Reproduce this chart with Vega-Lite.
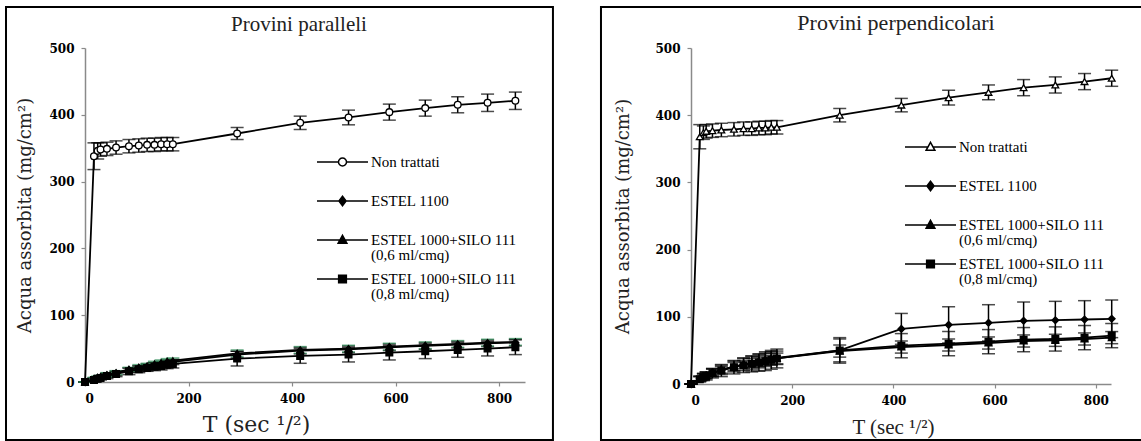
{
  "$schema": "https://vega.github.io/schema/vega-lite/v6.json",
  "background": "white",
  "padding": 5,
  "spacing": 45,
  "resolve": {
    "scale": {"x": "independent", "y": "independent", "shape": "independent", "fill": "independent"},
    "legend": {"shape": "independent", "fill": "independent"},
    "axis": {"x": "independent", "y": "independent"}
  },
  "datasets": {
    "pts": [
      {"p":"L","s":"Non trattati","t":0,"y":0,"e":0},
      {"p":"L","s":"Non trattati","t":17.3,"y":338,"e":20},
      {"p":"L","s":"Non trattati","t":24.5,"y":346,"e":12},
      {"p":"L","s":"Non trattati","t":30,"y":348,"e":10},
      {"p":"L","s":"Non trattati","t":42.4,"y":349,"e":10},
      {"p":"L","s":"Non trattati","t":60,"y":351,"e":10},
      {"p":"L","s":"Non trattati","t":84.9,"y":353,"e":10},
      {"p":"L","s":"Non trattati","t":103.9,"y":354,"e":10},
      {"p":"L","s":"Non trattati","t":120,"y":355,"e":10},
      {"p":"L","s":"Non trattati","t":134.2,"y":355,"e":10},
      {"p":"L","s":"Non trattati","t":147,"y":356,"e":10},
      {"p":"L","s":"Non trattati","t":158.7,"y":356,"e":10},
      {"p":"L","s":"Non trattati","t":169.7,"y":356,"e":10},
      {"p":"L","s":"Non trattati","t":293.9,"y":372,"e":9},
      {"p":"L","s":"Non trattati","t":415.7,"y":388,"e":10},
      {"p":"L","s":"Non trattati","t":509.1,"y":396,"e":11},
      {"p":"L","s":"Non trattati","t":587.9,"y":404,"e":12},
      {"p":"L","s":"Non trattati","t":657.3,"y":410,"e":12},
      {"p":"L","s":"Non trattati","t":720,"y":415,"e":12},
      {"p":"L","s":"Non trattati","t":777.7,"y":418,"e":13},
      {"p":"L","s":"Non trattati","t":831.4,"y":421,"e":13},
      {"p":"L","s":"ESTEL 1100","t":0,"y":0,"e":0},
      {"p":"L","s":"ESTEL 1100","t":17.3,"y":4,"e":2},
      {"p":"L","s":"ESTEL 1100","t":24.5,"y":6,"e":2},
      {"p":"L","s":"ESTEL 1100","t":30,"y":7,"e":2},
      {"p":"L","s":"ESTEL 1100","t":42.4,"y":10,"e":3},
      {"p":"L","s":"ESTEL 1100","t":60,"y":13,"e":3},
      {"p":"L","s":"ESTEL 1100","t":84.9,"y":18,"e":3},
      {"p":"L","s":"ESTEL 1100","t":103.9,"y":21,"e":3},
      {"p":"L","s":"ESTEL 1100","t":120,"y":23,"e":4},
      {"p":"L","s":"ESTEL 1100","t":134.2,"y":25,"e":4},
      {"p":"L","s":"ESTEL 1100","t":147,"y":27,"e":4},
      {"p":"L","s":"ESTEL 1100","t":158.7,"y":29,"e":4},
      {"p":"L","s":"ESTEL 1100","t":169.7,"y":30,"e":4},
      {"p":"L","s":"ESTEL 1100","t":293.9,"y":41,"e":5},
      {"p":"L","s":"ESTEL 1100","t":415.7,"y":47,"e":5},
      {"p":"L","s":"ESTEL 1100","t":509.1,"y":49,"e":5},
      {"p":"L","s":"ESTEL 1100","t":587.9,"y":52,"e":5},
      {"p":"L","s":"ESTEL 1100","t":657.3,"y":54,"e":5},
      {"p":"L","s":"ESTEL 1100","t":720,"y":56,"e":5},
      {"p":"L","s":"ESTEL 1100","t":777.7,"y":58,"e":5},
      {"p":"L","s":"ESTEL 1100","t":831.4,"y":59,"e":5},
      {"p":"L","s":"ESTEL 1000+SILO 111 (0,6 ml/cmq)","t":0,"y":0,"e":0},
      {"p":"L","s":"ESTEL 1000+SILO 111 (0,6 ml/cmq)","t":17.3,"y":5,"e":2},
      {"p":"L","s":"ESTEL 1000+SILO 111 (0,6 ml/cmq)","t":24.5,"y":7,"e":2},
      {"p":"L","s":"ESTEL 1000+SILO 111 (0,6 ml/cmq)","t":30,"y":8,"e":2},
      {"p":"L","s":"ESTEL 1000+SILO 111 (0,6 ml/cmq)","t":42.4,"y":11,"e":3},
      {"p":"L","s":"ESTEL 1000+SILO 111 (0,6 ml/cmq)","t":60,"y":14,"e":3},
      {"p":"L","s":"ESTEL 1000+SILO 111 (0,6 ml/cmq)","t":84.9,"y":19,"e":3},
      {"p":"L","s":"ESTEL 1000+SILO 111 (0,6 ml/cmq)","t":103.9,"y":22,"e":4},
      {"p":"L","s":"ESTEL 1000+SILO 111 (0,6 ml/cmq)","t":120,"y":24,"e":4},
      {"p":"L","s":"ESTEL 1000+SILO 111 (0,6 ml/cmq)","t":134.2,"y":27,"e":4},
      {"p":"L","s":"ESTEL 1000+SILO 111 (0,6 ml/cmq)","t":147,"y":29,"e":4},
      {"p":"L","s":"ESTEL 1000+SILO 111 (0,6 ml/cmq)","t":158.7,"y":31,"e":4},
      {"p":"L","s":"ESTEL 1000+SILO 111 (0,6 ml/cmq)","t":169.7,"y":32,"e":4},
      {"p":"L","s":"ESTEL 1000+SILO 111 (0,6 ml/cmq)","t":293.9,"y":43,"e":5},
      {"p":"L","s":"ESTEL 1000+SILO 111 (0,6 ml/cmq)","t":415.7,"y":48,"e":5},
      {"p":"L","s":"ESTEL 1000+SILO 111 (0,6 ml/cmq)","t":509.1,"y":50,"e":5},
      {"p":"L","s":"ESTEL 1000+SILO 111 (0,6 ml/cmq)","t":587.9,"y":53,"e":5},
      {"p":"L","s":"ESTEL 1000+SILO 111 (0,6 ml/cmq)","t":657.3,"y":55,"e":5},
      {"p":"L","s":"ESTEL 1000+SILO 111 (0,6 ml/cmq)","t":720,"y":57,"e":5},
      {"p":"L","s":"ESTEL 1000+SILO 111 (0,6 ml/cmq)","t":777.7,"y":59,"e":5},
      {"p":"L","s":"ESTEL 1000+SILO 111 (0,6 ml/cmq)","t":831.4,"y":60,"e":5},
      {"p":"L","s":"ESTEL 1000+SILO 111 (0,8 ml/cmq)","t":0,"y":0,"e":0},
      {"p":"L","s":"ESTEL 1000+SILO 111 (0,8 ml/cmq)","t":17.3,"y":3,"e":3},
      {"p":"L","s":"ESTEL 1000+SILO 111 (0,8 ml/cmq)","t":24.5,"y":5,"e":3},
      {"p":"L","s":"ESTEL 1000+SILO 111 (0,8 ml/cmq)","t":30,"y":6,"e":3},
      {"p":"L","s":"ESTEL 1000+SILO 111 (0,8 ml/cmq)","t":42.4,"y":9,"e":4},
      {"p":"L","s":"ESTEL 1000+SILO 111 (0,8 ml/cmq)","t":60,"y":12,"e":4},
      {"p":"L","s":"ESTEL 1000+SILO 111 (0,8 ml/cmq)","t":84.9,"y":16,"e":5},
      {"p":"L","s":"ESTEL 1000+SILO 111 (0,8 ml/cmq)","t":103.9,"y":19,"e":5},
      {"p":"L","s":"ESTEL 1000+SILO 111 (0,8 ml/cmq)","t":120,"y":21,"e":5},
      {"p":"L","s":"ESTEL 1000+SILO 111 (0,8 ml/cmq)","t":134.2,"y":23,"e":6},
      {"p":"L","s":"ESTEL 1000+SILO 111 (0,8 ml/cmq)","t":147,"y":24,"e":6},
      {"p":"L","s":"ESTEL 1000+SILO 111 (0,8 ml/cmq)","t":158.7,"y":26,"e":6},
      {"p":"L","s":"ESTEL 1000+SILO 111 (0,8 ml/cmq)","t":169.7,"y":27,"e":6},
      {"p":"L","s":"ESTEL 1000+SILO 111 (0,8 ml/cmq)","t":293.9,"y":35,"e":11},
      {"p":"L","s":"ESTEL 1000+SILO 111 (0,8 ml/cmq)","t":415.7,"y":39,"e":11},
      {"p":"L","s":"ESTEL 1000+SILO 111 (0,8 ml/cmq)","t":509.1,"y":41,"e":11},
      {"p":"L","s":"ESTEL 1000+SILO 111 (0,8 ml/cmq)","t":587.9,"y":44,"e":11},
      {"p":"L","s":"ESTEL 1000+SILO 111 (0,8 ml/cmq)","t":657.3,"y":46,"e":11},
      {"p":"L","s":"ESTEL 1000+SILO 111 (0,8 ml/cmq)","t":720,"y":48,"e":11},
      {"p":"L","s":"ESTEL 1000+SILO 111 (0,8 ml/cmq)","t":777.7,"y":50,"e":11},
      {"p":"L","s":"ESTEL 1000+SILO 111 (0,8 ml/cmq)","t":831.4,"y":52,"e":11},
      {"p":"R","s":"Non trattati","t":0,"y":0,"e":0},
      {"p":"R","s":"Non trattati","t":17.3,"y":368,"e":18},
      {"p":"R","s":"Non trattati","t":24.5,"y":374,"e":10},
      {"p":"R","s":"Non trattati","t":30,"y":376,"e":10},
      {"p":"R","s":"Non trattati","t":42.4,"y":377,"e":10},
      {"p":"R","s":"Non trattati","t":60,"y":378,"e":10},
      {"p":"R","s":"Non trattati","t":84.9,"y":379,"e":10},
      {"p":"R","s":"Non trattati","t":103.9,"y":380,"e":10},
      {"p":"R","s":"Non trattati","t":120,"y":380,"e":10},
      {"p":"R","s":"Non trattati","t":134.2,"y":381,"e":10},
      {"p":"R","s":"Non trattati","t":147,"y":381,"e":10},
      {"p":"R","s":"Non trattati","t":158.7,"y":382,"e":10},
      {"p":"R","s":"Non trattati","t":169.7,"y":382,"e":10},
      {"p":"R","s":"Non trattati","t":293.9,"y":400,"e":10},
      {"p":"R","s":"Non trattati","t":415.7,"y":415,"e":10},
      {"p":"R","s":"Non trattati","t":509.1,"y":426,"e":11},
      {"p":"R","s":"Non trattati","t":587.9,"y":434,"e":11},
      {"p":"R","s":"Non trattati","t":657.3,"y":441,"e":12},
      {"p":"R","s":"Non trattati","t":720,"y":445,"e":12},
      {"p":"R","s":"Non trattati","t":777.7,"y":450,"e":12},
      {"p":"R","s":"Non trattati","t":831.4,"y":455,"e":12},
      {"p":"R","s":"ESTEL 1100","t":0,"y":0,"e":0},
      {"p":"R","s":"ESTEL 1100","t":17.3,"y":8,"e":4},
      {"p":"R","s":"ESTEL 1100","t":24.5,"y":11,"e":5},
      {"p":"R","s":"ESTEL 1100","t":30,"y":13,"e":5},
      {"p":"R","s":"ESTEL 1100","t":42.4,"y":17,"e":6},
      {"p":"R","s":"ESTEL 1100","t":60,"y":21,"e":7},
      {"p":"R","s":"ESTEL 1100","t":84.9,"y":26,"e":8},
      {"p":"R","s":"ESTEL 1100","t":103.9,"y":29,"e":9},
      {"p":"R","s":"ESTEL 1100","t":120,"y":31,"e":10},
      {"p":"R","s":"ESTEL 1100","t":134.2,"y":34,"e":10},
      {"p":"R","s":"ESTEL 1100","t":147,"y":36,"e":10},
      {"p":"R","s":"ESTEL 1100","t":158.7,"y":38,"e":10},
      {"p":"R","s":"ESTEL 1100","t":169.7,"y":39,"e":10},
      {"p":"R","s":"ESTEL 1100","t":293.9,"y":50,"e":17},
      {"p":"R","s":"ESTEL 1100","t":415.7,"y":82,"e":23},
      {"p":"R","s":"ESTEL 1100","t":509.1,"y":88,"e":27},
      {"p":"R","s":"ESTEL 1100","t":587.9,"y":91,"e":27},
      {"p":"R","s":"ESTEL 1100","t":657.3,"y":94,"e":28},
      {"p":"R","s":"ESTEL 1100","t":720,"y":95,"e":28},
      {"p":"R","s":"ESTEL 1100","t":777.7,"y":96,"e":28},
      {"p":"R","s":"ESTEL 1100","t":831.4,"y":97,"e":28},
      {"p":"R","s":"ESTEL 1000+SILO 111 (0,6 ml/cmq)","t":0,"y":0,"e":0},
      {"p":"R","s":"ESTEL 1000+SILO 111 (0,6 ml/cmq)","t":17.3,"y":8,"e":3},
      {"p":"R","s":"ESTEL 1000+SILO 111 (0,6 ml/cmq)","t":24.5,"y":11,"e":4},
      {"p":"R","s":"ESTEL 1000+SILO 111 (0,6 ml/cmq)","t":30,"y":13,"e":4},
      {"p":"R","s":"ESTEL 1000+SILO 111 (0,6 ml/cmq)","t":42.4,"y":17,"e":5},
      {"p":"R","s":"ESTEL 1000+SILO 111 (0,6 ml/cmq)","t":60,"y":21,"e":5},
      {"p":"R","s":"ESTEL 1000+SILO 111 (0,6 ml/cmq)","t":84.9,"y":26,"e":6},
      {"p":"R","s":"ESTEL 1000+SILO 111 (0,6 ml/cmq)","t":103.9,"y":29,"e":6},
      {"p":"R","s":"ESTEL 1000+SILO 111 (0,6 ml/cmq)","t":120,"y":31,"e":7},
      {"p":"R","s":"ESTEL 1000+SILO 111 (0,6 ml/cmq)","t":134.2,"y":33,"e":7},
      {"p":"R","s":"ESTEL 1000+SILO 111 (0,6 ml/cmq)","t":147,"y":35,"e":7},
      {"p":"R","s":"ESTEL 1000+SILO 111 (0,6 ml/cmq)","t":158.7,"y":37,"e":8},
      {"p":"R","s":"ESTEL 1000+SILO 111 (0,6 ml/cmq)","t":169.7,"y":38,"e":8},
      {"p":"R","s":"ESTEL 1000+SILO 111 (0,6 ml/cmq)","t":293.9,"y":49,"e":9},
      {"p":"R","s":"ESTEL 1000+SILO 111 (0,6 ml/cmq)","t":415.7,"y":55,"e":9},
      {"p":"R","s":"ESTEL 1000+SILO 111 (0,6 ml/cmq)","t":509.1,"y":58,"e":9},
      {"p":"R","s":"ESTEL 1000+SILO 111 (0,6 ml/cmq)","t":587.9,"y":61,"e":9},
      {"p":"R","s":"ESTEL 1000+SILO 111 (0,6 ml/cmq)","t":657.3,"y":64,"e":9},
      {"p":"R","s":"ESTEL 1000+SILO 111 (0,6 ml/cmq)","t":720,"y":65,"e":9},
      {"p":"R","s":"ESTEL 1000+SILO 111 (0,6 ml/cmq)","t":777.7,"y":67,"e":9},
      {"p":"R","s":"ESTEL 1000+SILO 111 (0,6 ml/cmq)","t":831.4,"y":69,"e":9},
      {"p":"R","s":"ESTEL 1000+SILO 111 (0,8 ml/cmq)","t":0,"y":0,"e":0},
      {"p":"R","s":"ESTEL 1000+SILO 111 (0,8 ml/cmq)","t":17.3,"y":7,"e":4},
      {"p":"R","s":"ESTEL 1000+SILO 111 (0,8 ml/cmq)","t":24.5,"y":10,"e":5},
      {"p":"R","s":"ESTEL 1000+SILO 111 (0,8 ml/cmq)","t":30,"y":12,"e":6},
      {"p":"R","s":"ESTEL 1000+SILO 111 (0,8 ml/cmq)","t":42.4,"y":16,"e":7},
      {"p":"R","s":"ESTEL 1000+SILO 111 (0,8 ml/cmq)","t":60,"y":20,"e":9},
      {"p":"R","s":"ESTEL 1000+SILO 111 (0,8 ml/cmq)","t":84.9,"y":25,"e":10},
      {"p":"R","s":"ESTEL 1000+SILO 111 (0,8 ml/cmq)","t":103.9,"y":28,"e":11},
      {"p":"R","s":"ESTEL 1000+SILO 111 (0,8 ml/cmq)","t":120,"y":30,"e":12},
      {"p":"R","s":"ESTEL 1000+SILO 111 (0,8 ml/cmq)","t":134.2,"y":32,"e":13},
      {"p":"R","s":"ESTEL 1000+SILO 111 (0,8 ml/cmq)","t":147,"y":34,"e":14},
      {"p":"R","s":"ESTEL 1000+SILO 111 (0,8 ml/cmq)","t":158.7,"y":36,"e":14},
      {"p":"R","s":"ESTEL 1000+SILO 111 (0,8 ml/cmq)","t":169.7,"y":38,"e":14},
      {"p":"R","s":"ESTEL 1000+SILO 111 (0,8 ml/cmq)","t":293.9,"y":50,"e":19},
      {"p":"R","s":"ESTEL 1000+SILO 111 (0,8 ml/cmq)","t":415.7,"y":57,"e":18},
      {"p":"R","s":"ESTEL 1000+SILO 111 (0,8 ml/cmq)","t":509.1,"y":60,"e":18},
      {"p":"R","s":"ESTEL 1000+SILO 111 (0,8 ml/cmq)","t":587.9,"y":63,"e":18},
      {"p":"R","s":"ESTEL 1000+SILO 111 (0,8 ml/cmq)","t":657.3,"y":66,"e":18},
      {"p":"R","s":"ESTEL 1000+SILO 111 (0,8 ml/cmq)","t":720,"y":67,"e":18},
      {"p":"R","s":"ESTEL 1000+SILO 111 (0,8 ml/cmq)","t":777.7,"y":69,"e":18},
      {"p":"R","s":"ESTEL 1000+SILO 111 (0,8 ml/cmq)","t":831.4,"y":72,"e":18}
    ],
    "one": [{"k": 1}]
  },
  "hconcat": [
    {
      "width": 440,
      "height": 334,
      "title": {"text": "Provini paralleli", "offset": -29, "dx": -6},
      "resolve": {"scale": {"shape": "independent"}, "legend": {"shape": "independent"}},
      "layer": [
        {
          "data": {"name": "one"},
          "mark": {"type": "rect", "fill": null, "stroke": "black", "strokeWidth": 2, "clip": false},
          "encoding": {
            "x": {"datum": -152.6, "type": "quantitative", "scale": {"domain": [0, 850], "nice": false, "zero": false},
                  "axis": {"values": [0, 200, 400, 600, 800], "title": "T (sec ¹/²)", "titleFont": "DejaVu Serif", "titleFontSize": 22, "titleX": 171, "titlePadding": 10, "labelPadding": 7}},
            "x2": {"datum": 904},
            "y": {"datum": 561.4, "type": "quantitative", "scale": {"domain": [0, 500], "nice": false, "zero": false},
                  "axis": {"values": [0, 100, 200, 300, 400, 500], "title": "Acqua assorbita (mg/cm²)", "titlePadding": 14, "labelPadding": 7}},
            "y2": {"datum": -86.8}
          }
        },
        {
          "data": {"name": "pts"},
          "transform": [{"filter": "datum.p === 'L' && indexof(datum.s, '0,6') < 0"}],
          "mark": {"type": "errorbar", "ticks": {"size": 13}, "thickness": 1.5, "color": "black"},
          "encoding": {
            "x": {"field": "t", "type": "quantitative", "axis": {"values": [0, 200, 400, 600, 800], "title": "T (sec ¹/²)", "titleFont": "DejaVu Serif", "titleFontSize": 22, "titleX": 171, "titlePadding": 10, "labelPadding": 7}},
            "y": {"field": "y", "type": "quantitative", "axis": {"values": [0, 100, 200, 300, 400, 500], "title": "Acqua assorbita (mg/cm²)", "titlePadding": 14, "labelPadding": 7}},
            "yError": {"field": "e"}
          }
        },
        {
          "data": {"name": "pts"},
          "transform": [{"filter": "datum.p === 'L' && indexof(datum.s, '0,6') >= 0"}],
          "mark": {"type": "errorbar", "ticks": {"size": 13}, "thickness": 1.5, "color": "#2e8b57"},
          "encoding": {
            "x": {"field": "t", "type": "quantitative", "axis": {"values": [0, 200, 400, 600, 800], "title": "T (sec ¹/²)", "titleFont": "DejaVu Serif", "titleFontSize": 22, "titleX": 171, "titlePadding": 10, "labelPadding": 7}},
            "y": {"field": "y", "type": "quantitative", "axis": {"values": [0, 100, 200, 300, 400, 500], "title": "Acqua assorbita (mg/cm²)", "titlePadding": 14, "labelPadding": 7}},
            "yError": {"field": "e"}
          }
        },
        {
          "data": {"name": "pts"},
          "transform": [{"filter": "datum.p === 'L'"}],
          "mark": {"type": "line", "color": "black", "strokeWidth": 1.8},
          "encoding": {
            "x": {"field": "t", "type": "quantitative", "axis": {"values": [0, 200, 400, 600, 800], "title": "T (sec ¹/²)", "titleFont": "DejaVu Serif", "titleFontSize": 22, "titleX": 171, "titlePadding": 10, "labelPadding": 7}},
            "y": {"field": "y", "type": "quantitative", "axis": {"values": [0, 100, 200, 300, 400, 500], "title": "Acqua assorbita (mg/cm²)", "titlePadding": 14, "labelPadding": 7}},
            "detail": {"field": "s"}
          }
        },
        {
          "data": {"name": "pts"},
          "transform": [{"filter": "datum.p === 'L'"}],
          "mark": {"type": "point", "filled": true, "size": 45, "stroke": "black", "strokeWidth": 1.3, "opacity": 1},
          "encoding": {
            "x": {"field": "t", "type": "quantitative", "axis": {"values": [0, 200, 400, 600, 800], "title": "T (sec ¹/²)", "titleFont": "DejaVu Serif", "titleFontSize": 22, "titleX": 171, "titlePadding": 10, "labelPadding": 7}},
            "y": {"field": "y", "type": "quantitative", "axis": {"values": [0, 100, 200, 300, 400, 500], "title": "Acqua assorbita (mg/cm²)", "titlePadding": 14, "labelPadding": 7}},
            "fill": {"condition": {"test": "datum.s === 'Non trattati'", "value": "white"}, "value": "black"},
            "shape": {
              "field": "s", "type": "nominal",
              "scale": {"domain": ["Non trattati", "ESTEL 1100", "ESTEL 1000+SILO 111 (0,6 ml/cmq)", "ESTEL 1000+SILO 111 (0,8 ml/cmq)"], "range": ["circle", "diamond", "triangle-up", "square"]},
              "legend": null
            }
          }
        },
        {
          "data": {"name": "pts"},
          "transform": [{"filter": "datum.p === 'L' && datum.t === 0"}],
          "mark": {"type": "point", "filled": true, "size": 121, "opacity": 0},
          "encoding": {
            "x": {"field": "t", "type": "quantitative", "axis": {"values": [0, 200, 400, 600, 800], "title": "T (sec ¹/²)", "titleFont": "DejaVu Serif", "titleFontSize": 22, "titleX": 171, "titlePadding": 10, "labelPadding": 7}},
            "y": {"field": "y", "type": "quantitative", "axis": {"values": [0, 100, 200, 300, 400, 500], "title": "Acqua assorbita (mg/cm²)", "titlePadding": 14, "labelPadding": 7}},
            "shape": {
              "field": "s", "type": "nominal",
              "scale": {"domain": ["Non trattati", "ESTEL 1100", "ESTEL 1000+SILO 111 (0,6 ml/cmq)", "ESTEL 1000+SILO 111 (0,8 ml/cmq)"],
                        "range": ["M-4.64,0H-0.73M0.73,0H4.64M-0.73,0A0.73,0.73,0,1,0,0.73,0A0.73,0.73,0,1,0,-0.73,0Z", "M-4.64,0H4.64M0,-0.85L0.65,0L0,0.85L-0.65,0Z", "M-4.64,0H4.64M0,-0.85L0.8,0.6L-0.8,0.6Z", "M-4.64,0H4.64M-0.7,-0.7H0.7V0.7H-0.7Z"]},
              "legend": {
                "title": null, "orient": "none", "legendX": 250, "legendY": 106.5, "padding": 0,
                "symbolSize": 121, "symbolStrokeWidth": 1.5, "symbolOffset": 0, "labelOffset": 21,
                "labelFont": "Liberation Serif", "labelFontSize": 15, "labelColor": "black", "labelBaseline": "top", "labelLimit": 400,
                "rowPadding": 7, "gridAlign": "all",
                "labelExpr": "split(replace(datum.label, ' (', '|('), '|')",
                "encoding": {
                  "symbols": {
                    "fill": {"value": {"expr": "datum.value === 'Non trattati' ? 'white' : 'black'"}},
                    "stroke": {"value": "black"},
                    "strokeWidth": {"value": 1.5},
                    "opacity": {"value": 1}
                  },
                  "labels": {"dy": {"value": -7}, "lineHeight": {"value": 15}}
                }
              }
            }
          }
        }
      ]
    },
    {
      "width": 420,
      "height": 336,
      "title": {"text": "Provini perpendicolari", "offset": -29, "dx": -5, "fontSize": 22},
      "resolve": {"scale": {"shape": "independent"}, "legend": {"shape": "independent"}},
      "layer": [
        {
          "data": {"name": "one"},
          "mark": {"type": "rect", "fill": null, "stroke": "black", "strokeWidth": 2, "clip": false},
          "encoding": {
            "x": {"datum": -177.9, "type": "quantitative", "scale": {"domain": [0, 830], "nice": false, "zero": false},
                  "axis": {"values": [0, 200, 400, 600, 800], "title": "T (sec ¹/²)", "titleFontSize": 21, "titleX": 202, "titlePadding": 10, "labelPadding": 7}},
            "x2": {"datum": 901},
            "y": {"datum": 561, "type": "quantitative", "scale": {"domain": [0, 500], "nice": false, "zero": false},
                  "axis": {"values": [0, 100, 200, 300, 400, 500], "title": "Acqua assorbita (mg/cm²)", "titlePadding": 22, "labelPadding": 7}},
            "y2": {"datum": -83.3}
          }
        },
        {
          "data": {"name": "pts"},
          "transform": [{"filter": "datum.p === 'R'"}],
          "mark": {"type": "errorbar", "ticks": {"size": 13}, "thickness": 1.5, "color": "black"},
          "encoding": {
            "x": {"field": "t", "type": "quantitative", "axis": {"values": [0, 200, 400, 600, 800], "title": "T (sec ¹/²)", "titleFontSize": 21, "titleX": 202, "titlePadding": 10, "labelPadding": 7}},
            "y": {"field": "y", "type": "quantitative", "axis": {"values": [0, 100, 200, 300, 400, 500], "title": "Acqua assorbita (mg/cm²)", "titlePadding": 22, "labelPadding": 7}},
            "yError": {"field": "e"}
          }
        },
        {
          "data": {"name": "pts"},
          "transform": [{"filter": "datum.p === 'R'"}],
          "mark": {"type": "line", "color": "black", "strokeWidth": 1.8},
          "encoding": {
            "x": {"field": "t", "type": "quantitative", "axis": {"values": [0, 200, 400, 600, 800], "title": "T (sec ¹/²)", "titleFontSize": 21, "titleX": 202, "titlePadding": 10, "labelPadding": 7}},
            "y": {"field": "y", "type": "quantitative", "axis": {"values": [0, 100, 200, 300, 400, 500], "title": "Acqua assorbita (mg/cm²)", "titlePadding": 22, "labelPadding": 7}},
            "detail": {"field": "s"}
          }
        },
        {
          "data": {"name": "pts"},
          "transform": [{"filter": "datum.p === 'R'"}],
          "mark": {"type": "point", "filled": true, "size": 45, "stroke": "black", "strokeWidth": 1.3, "opacity": 1},
          "encoding": {
            "x": {"field": "t", "type": "quantitative", "axis": {"values": [0, 200, 400, 600, 800], "title": "T (sec ¹/²)", "titleFontSize": 21, "titleX": 202, "titlePadding": 10, "labelPadding": 7}},
            "y": {"field": "y", "type": "quantitative", "axis": {"values": [0, 100, 200, 300, 400, 500], "title": "Acqua assorbita (mg/cm²)", "titlePadding": 22, "labelPadding": 7}},
            "fill": {"condition": {"test": "datum.s === 'Non trattati'", "value": "white"}, "value": "black"},
            "shape": {
              "field": "s", "type": "nominal",
              "scale": {"domain": ["Non trattati", "ESTEL 1100", "ESTEL 1000+SILO 111 (0,6 ml/cmq)", "ESTEL 1000+SILO 111 (0,8 ml/cmq)"], "range": ["triangle-up", "diamond", "triangle-up", "square"]},
              "legend": null
            }
          }
        },
        {
          "data": {"name": "pts"},
          "transform": [{"filter": "datum.p === 'R' && datum.t === 0"}],
          "mark": {"type": "point", "filled": true, "size": 121, "opacity": 0},
          "encoding": {
            "x": {"field": "t", "type": "quantitative", "axis": {"values": [0, 200, 400, 600, 800], "title": "T (sec ¹/²)", "titleFontSize": 21, "titleX": 202, "titlePadding": 10, "labelPadding": 7}},
            "y": {"field": "y", "type": "quantitative", "axis": {"values": [0, 100, 200, 300, 400, 500], "title": "Acqua assorbita (mg/cm²)", "titlePadding": 22, "labelPadding": 7}},
            "shape": {
              "field": "s", "type": "nominal",
              "scale": {"domain": ["Non trattati", "ESTEL 1100", "ESTEL 1000+SILO 111 (0,6 ml/cmq)", "ESTEL 1000+SILO 111 (0,8 ml/cmq)"],
                        "range": ["M-4.64,0H-0.47M0.47,0H4.64M0,-0.85L0.8,0.6L-0.8,0.6Z", "M-4.64,0H4.64M0,-0.85L0.65,0L0,0.85L-0.65,0Z", "M-4.64,0H4.64M0,-0.85L0.8,0.6L-0.8,0.6Z", "M-4.64,0H4.64M-0.7,-0.7H0.7V0.7H-0.7Z"]},
              "legend": {
                "title": null, "orient": "none", "legendX": 232, "legendY": 91.5, "padding": 0,
                "symbolSize": 121, "symbolStrokeWidth": 1.5, "symbolOffset": 0, "labelOffset": 21,
                "labelFont": "Liberation Serif", "labelFontSize": 15, "labelColor": "black", "labelBaseline": "top", "labelLimit": 400,
                "rowPadding": 7, "gridAlign": "all",
                "labelExpr": "split(replace(datum.label, ' (', '|('), '|')",
                "encoding": {
                  "symbols": {
                    "fill": {"value": {"expr": "datum.value === 'Non trattati' ? 'white' : 'black'"}},
                    "stroke": {"value": "black"},
                    "strokeWidth": {"value": 1.5},
                    "opacity": {"value": 1}
                  },
                  "labels": {"dy": {"value": -7}, "lineHeight": {"value": 15}}
                }
              }
            }
          }
        }
      ]
    }
  ],
  "config": {
    "view": {"stroke": null},
    "font": "Liberation Serif",
    "axis": {
      "grid": false,
      "domainColor": "#8a8a8a",
      "domainWidth": 1.5,
      "tickColor": "#8a8a8a",
      "tickWidth": 1.2,
      "tickSize": 4,
      "labelFont": "DejaVu Serif",
      "labelFontSize": 12,
      "labelFontWeight": "bold",
      "labelColor": "black",
      "titleFont": "Liberation Serif",
      "titleFontSize": 20,
      "titleFontWeight": "normal",
      "titleColor": "#222"
    },
    "axisY": {"titleFont": "DejaVu Serif", "titleFontSize": 18},
    "title": {"font": "Liberation Serif", "fontSize": 21, "fontWeight": "normal", "color": "#222"}
  }
}
